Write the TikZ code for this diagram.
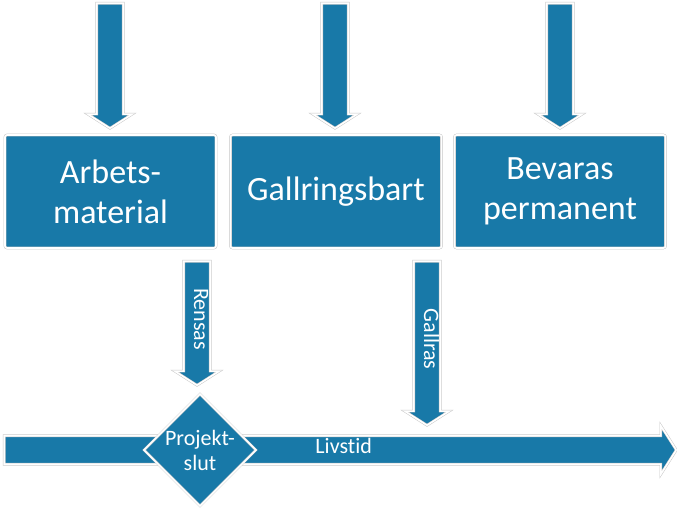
\documentclass[tikz,border=0pt]{standalone}
\usepackage{fontspec}
\setmainfont[Ligatures=NoCommon]{Carlito}
\usetikzlibrary{shapes.geometric,shapes.arrows}
\definecolor{blockblue}{RGB}{24,121,168}

\tikzset{
	rim/.style={fill=blockblue, draw=gray!45, double=white, double distance=1.6pt, line width=0.5pt},
	box/.style={rim, rectangle, rounded corners=2pt, minimum width=211pt, minimum height=113pt, align=center, text=white, font=\fontsize{34}{40}\selectfont},
	downarrow/.style={rim, single arrow, rotate=-90, anchor=tail, single arrow head extend=9pt, single arrow tip angle=115, text height=8pt, text depth=2pt, inner ysep=8pt, inner xsep=0pt, text=white, font=\fontsize{22}{24}\selectfont},
}

\begin{document}
\begin{tikzpicture}[x=1pt, y=-1pt]
				\useasboundingbox (0,0) rectangle (677,508);
				\node (box1) [box] at (110.5,191.5) {Arbets-\\material};
				\node (box2) [box] at (336,191.5) {Gallringsbart};
				\node (box3) [box] at (560,191.5) {Bevaras\\permanent};
				
				% Arrows
				\node (in1) [downarrow, minimum height=125pt] at (110,3) {};
				\node (in2) [downarrow, minimum height=125pt] at (335,3) {};
				\node (in3) [downarrow, minimum height=125pt] at (560,3) {};
				\node (life) [downarrow, rotate=90, minimum height=672pt, single arrow head extend=10pt, inner ysep=9pt] at (4,450) {\hspace*{16pt}Livstid};
				\node (end) [rim, diamond, aspect=1, minimum width=112pt, minimum height=112pt, inner sep=0pt, align=center, text=white, font=\fontsize{22}{25}\selectfont] at (200,450) {Projekt-\\slut};
				\node (clean) [downarrow, minimum height=124pt] at (197,261) {Rensas};
				\node (thin) [downarrow, minimum height=164pt] at (427,261) {Gallras};
		\end{tikzpicture}
\end{document}
